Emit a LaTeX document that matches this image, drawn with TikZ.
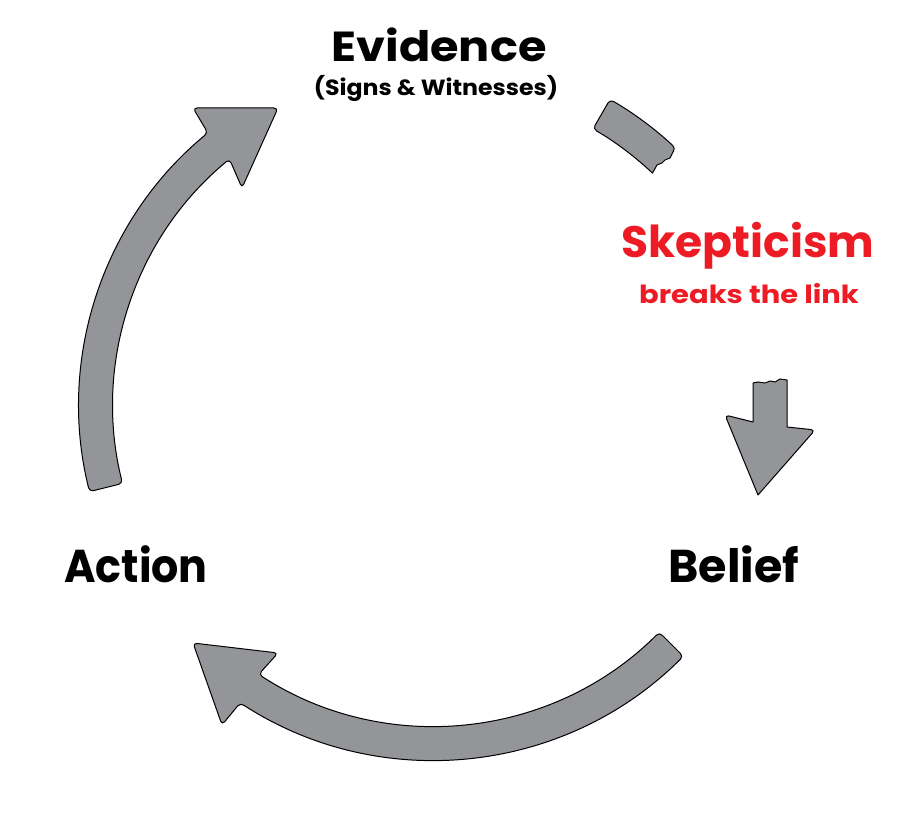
\documentclass[tikz,border=0pt]{standalone}
\usepackage{fontspec}
\setmainfont{Poppins}
\usetikzlibrary{calc}
\begin{document}
\begin{tikzpicture}[x=1pt,y=1pt]
\definecolor{arrowgray}{HTML}{939598}
\definecolor{skred}{HTML}{ED1C24}
\tikzset{
  band/.style={fill=arrowgray,draw=black,line width=1pt,line join=round,rounded corners=4pt},
  lbl/.style={inner sep=0pt,anchor=base,text=black},
}
\fill[white] (0,0) rectangle (918,821);
\useasboundingbox (0,0) rectangle (918,821);
\coordinate (C) at (433,415);

% Action -> Evidence
\draw[band] ($(C)+(194:354)$) arc[start angle=194,end angle=129.5,radius=354]
  -- (193,713) -- (278,713) -- (242,633)
  -- ($(C)+(129.5:320)$) arc[start angle=129.5,end angle=194,radius=320] -- cycle;

% Belief -> Action
\draw[band] ($(C)+(315:354)$) arc[start angle=315,end angle=237,radius=354]
  -- (222,96) -- (193,178) -- (278,168)
  -- ($(C)+(237:320)$) arc[start angle=237,end angle=315,radius=320] -- cycle;

% broken segment after Evidence
\draw[band] ($(C)+(60:354)$) arc[start angle=60,end angle=46.7,radius=354]
  [sharp corners] -- (673,669) -- (670,663) -- (665,661) -- (662,658) -- (657,656)
  -- ($(C)+(46.7:320)$) [rounded corners=4pt] arc[start angle=46.7,end angle=60,radius=320] -- cycle;

% broken arrowhead before Belief
\draw[band] (753,438) [sharp corners] -- (758,439) -- (765,438) -- (770,440) -- (775,439) -- (780,442) -- (787,441)
  -- (787,394) [rounded corners=4pt] -- (815,391) [sharp corners] -- (758,326) [rounded corners=4pt] -- (725,406) [sharp corners] -- (753,399) -- cycle;

\node[lbl,font=\fontsize{42}{42}\selectfont\bfseries] (evidence) at (439,759) {\scalebox{1.1}[1]{Evidence}};
\node[lbl,font=\fontsize{22}{22}\selectfont\bfseries] (signs) at (436,725) {\scalebox{1.075}[1]{(Signs \& Witnesses)}};
\node[lbl,font=\fontsize{44}{44}\selectfont\bfseries,text=skred] (skep) at (748,563) {Skepticism};
\node[lbl,font=\fontsize{25}{25}\selectfont\bfseries,text=skred] (breaks) at (749,517) {\scalebox{1.16}[1]{breaks the link}};
\node[lbl,font=\fontsize{46}{46}\selectfont\bfseries] (action) at (136,238) {\scalebox{0.93}[1]{Action}};
\node[lbl,font=\fontsize{46}{46}\selectfont\bfseries] (belief) at (734,238) {Belief};
\end{tikzpicture}
\end{document}
